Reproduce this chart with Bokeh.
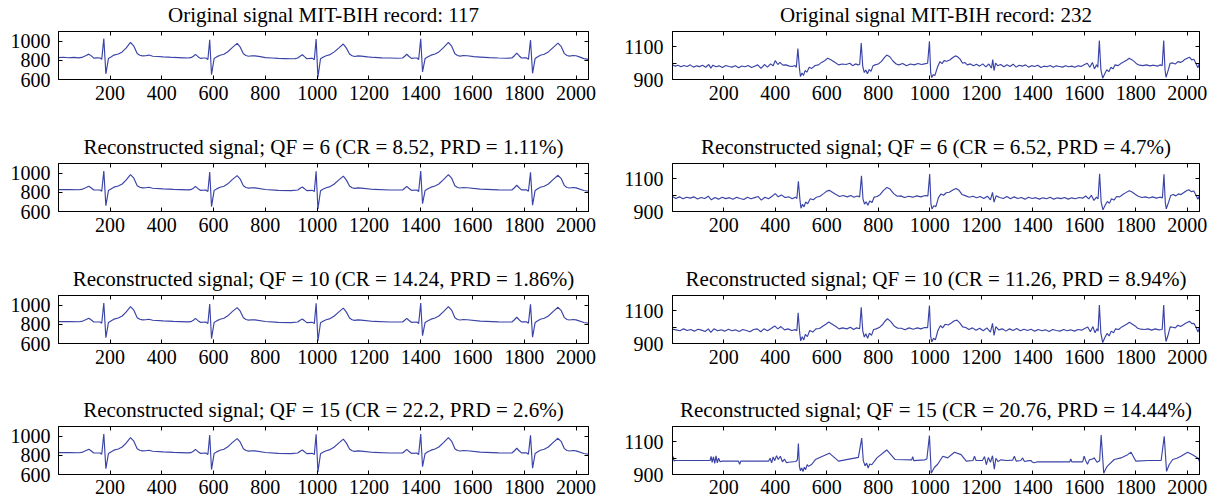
from bokeh.plotting import figure
from bokeh.layouts import column, row
from bokeh.models import Range1d, FixedTicker, LinearAxis, CustomLabelingPolicy
from bokeh.embed import file_html
from bokeh.resources import INLINE

FONT = "Liberation Serif"
LINE_COLOR = "#3a43a6"

# ---------------- data ----------------
x_ticks = [200, 400, 600, 800, 1000, 1200, 1400, 1600, 1800, 2000]
y117_ticks = [600, 800, 1000]
y232_ticks = [900, 1000, 1100]
y232_label_overrides = {1000: ""}

titles_117 = [
    "Original signal MIT-BIH record: 117",
    "Reconstructed signal; QF = 6 (CR = 8.52, PRD = 1.11%)",
    "Reconstructed signal; QF = 10 (CR = 14.24, PRD = 1.86%)",
    "Reconstructed signal; QF = 15 (CR = 22.2, PRD = 2.6%)",
]
titles_232 = [
    "Original signal MIT-BIH record: 232",
    "Reconstructed signal; QF = 6 (CR = 6.52, PRD = 4.7%)",
    "Reconstructed signal; QF = 10 (CR = 11.26, PRD = 8.94%)",
    "Reconstructed signal; QF = 15 (CR = 20.76, PRD = 14.44%)",
]

# record 117, original (sample, value)
r117_orig = [(1,830),(20,834),(40,829),(60,833),(80,828),(95,836),(108,852),(118,867),(128,848),(137,825),(150,828),(162,826),(168,812),(176,1030),(184,660),(194,822),(205,840),(215,857),(232,868),(247,890),(262,930),(279,990),(292,950),(305,873),(315,855),(325,848),(338,850),(350,857),(365,845),(385,842),(405,838),(425,836),(445,832),(465,830),(485,828),(500,826),(512,830),(522,845),(530,865),(540,840),(549,822),(562,826),(570,826),(578,810),(585,1018),(592,650),(602,820),(612,838),(625,855),(640,866),(655,892),(672,935),(691,980),(703,940),(715,870),(725,852),(735,845),(748,850),(760,848),(780,840),(800,830),(825,826),(850,822),(875,820),(900,818),(915,820),(925,826),(934,845),(943,860),(951,840),(960,818),(975,822),(982,822),(989,808),(996,1025),(1003,625),(1013,818),(1024,836),(1035,850),(1050,862),(1065,888),(1083,930),(1101,973),(1113,930),(1125,868),(1135,850),(1145,842),(1158,848),(1170,846),(1195,838),(1220,832),(1250,828),(1280,826),(1310,824),(1330,826),(1338,845),(1346,866),(1354,845),(1364,822),(1378,826),(1385,826),(1392,810),(1400,1028),(1407,680),(1417,822),(1428,840),(1440,856),(1455,868),(1470,890),(1488,935),(1507,990),(1520,948),(1532,870),(1542,852),(1552,846),(1565,852),(1580,850),(1605,840),(1630,836),(1665,830),(1700,826),(1730,824),(1752,826),(1762,850),(1771,878),(1780,850),(1789,826),(1800,828),(1808,828),(1816,812),(1824,1015),(1832,665),(1842,822),(1852,840),(1862,855),(1877,866),(1893,890),(1911,935),(1930,983),(1943,945),(1955,872),(1965,852),(1975,846),(1988,852),(2000,850),(2015,835),(2030,820),(2048,812)]

# record 117, reconstructions (visually the same shape, smoother)
r117_rec = [(1,830),(40,831),(80,829),(95,836),(108,852),(118,866),(128,847),(137,826),(162,826),(168,813),(176,1026),(184,662),(194,822),(205,840),(215,856),(232,868),(247,889),(262,930),(279,988),(292,950),(305,872),(315,855),(325,849),(338,850),(350,855),(365,845),(405,838),(445,832),(500,827),(512,830),(522,845),(530,864),(540,840),(549,823),(570,826),(578,811),(585,1015),(592,652),(602,820),(612,838),(625,855),(640,866),(655,891),(672,935),(691,978),(703,940),(715,870),(725,852),(735,846),(748,850),(760,848),(800,831),(850,823),(900,819),(925,826),(934,845),(943,858),(951,840),(960,819),(982,822),(989,809),(996,1022),(1003,628),(1013,818),(1024,836),(1035,850),(1050,862),(1065,887),(1083,930),(1101,972),(1113,930),(1125,868),(1135,850),(1145,843),(1158,848),(1170,846),(1220,832),(1280,826),(1330,826),(1338,845),(1346,865),(1354,845),(1364,823),(1385,826),(1392,811),(1400,1025),(1407,682),(1417,822),(1428,840),(1440,856),(1455,868),(1470,889),(1488,935),(1507,988),(1520,948),(1532,870),(1542,852),(1552,847),(1565,852),(1580,850),(1630,836),(1700,827),(1752,826),(1762,850),(1771,876),(1780,850),(1789,827),(1808,828),(1816,813),(1824,1012),(1832,667),(1842,822),(1852,840),(1862,855),(1877,866),(1893,889),(1911,935),(1930,981),(1943,945),(1955,872),(1965,852),(1975,847),(1988,852),(2000,849),(2030,821),(2048,813)]

# record 232, original
r232_orig = [(1,990),(12,982),(22,988),(34,978),(45,986),(58,980),(70,990),(82,976),(95,984),(106,979),(118,987),(130,975),(142,992),(150,970),(158,988),(170,978),(182,984),(195,974),(208,986),(220,980),(232,976),(245,985),(258,972),(270,983),(282,978),(295,986),(308,974),(320,982),(332,990),(345,968),(358,992),(370,976),(382,996),(392,985),(400,1016),(410,992),(418,1005),(430,988),(442,990),(455,982),(466,980),(476,986),(482,975),(488,1090),(494,970),(498,918),(504,940),(510,925),(516,955),(523,945),(532,975),(542,968),(555,986),(568,990),(580,1005),(592,1015),(604,1031),(616,1022),(630,1008),(646,990),(660,995),(675,992),(690,1000),(700,985),(712,996),(722,990),(728,992),(734,1124),(740,980),(746,943),(752,958),(758,935),(765,962),(772,950),(780,985),(788,990),(800,995),(812,1010),(824,1035),(833,1050),(845,1040),(858,1012),(870,995),(880,990),(895,998),(910,985),(925,995),(940,990),(955,998),(968,992),(980,996),(992,1000),(999,1135),(1004,940),(1008,912),(1014,930),(1020,924),(1030,975),(1040,1010),(1048,998),(1056,1016),(1066,1012),(1078,1020),(1090,1035),(1100,1045),(1108,1040),(1118,1025),(1128,1000),(1136,1005),(1146,990),(1158,996),(1170,985),(1182,994),(1194,982),(1206,996),(1218,978),(1230,995),(1240,970),(1245,1022),(1250,955),(1256,1000),(1264,985),(1276,992),(1288,978),(1300,990),(1312,980),(1324,994),(1336,976),(1348,988),(1360,982),(1372,990),(1384,976),(1396,985),(1408,980),(1420,988),(1432,974),(1444,982),(1456,978),(1468,986),(1480,975),(1492,984),(1504,980),(1516,976),(1528,985),(1540,978),(1552,982),(1564,975),(1576,985),(1588,980),(1600,990),(1612,1000),(1622,975),(1632,1005),(1640,965),(1648,990),(1653,975),(1659,1139),(1665,960),(1672,908),(1680,935),(1688,960),(1696,948),(1704,975),(1712,965),(1720,990),(1732,985),(1744,1000),(1756,1010),(1766,1020),(1775,1031),(1785,1022),(1795,1010),(1805,995),(1815,988),(1828,985),(1842,990),(1856,984),(1870,988),(1884,982),(1896,990),(1903,985),(1909,1139),(1914,960),(1918,914),(1926,955),(1934,1000),(1944,1002),(1954,995),(1964,1010),(1974,1005),(1983,1012),(1992,1025),(2000,1030),(2009,1037),(2018,1020),(2026,1025),(2034,1000),(2042,972),(2048,1000)]

# record 232, QF = 6
r232_qf6 = [(1,992),(14,980),(28,990),(42,978),(56,988),(70,982),(84,990),(98,977),(112,986),(126,980),(140,994),(152,972),(166,986),(180,976),(194,988),(208,979),(222,985),(236,975),(250,987),(264,980),(278,974),(292,988),(306,978),(320,985),(334,992),(346,970),(360,988),(374,978),(388,994),(400,1010),(412,990),(424,1002),(438,986),(452,990),(466,978),(478,988),(484,980),(490,1085),(496,972),(500,920),(506,945),(512,928),(518,958),(526,948),(536,978),(548,972),(560,988),(574,994),(588,1010),(600,1025),(610,1030),(622,1018),(636,1004),(650,992),(664,998),(680,990),(694,998),(706,988),(718,995),(728,990),(735,1120),(741,975),(747,945),(753,960),(760,938),(767,965),(776,955),(784,988),(796,992),(808,1005),(820,1028),(834,1048),(846,1038),(860,1010),(874,994),(888,996),(902,986),(918,994),(934,988),(950,996),(966,990),(982,998),(993,996),(1000,1130),(1005,945),(1009,915),(1016,935),(1024,930),(1034,985),(1044,1008),(1054,1000),(1064,1015),(1076,1018),(1090,1032),(1102,1042),(1114,1030),(1126,1004),(1140,996),(1154,988),(1168,994),(1182,984),(1196,992),(1210,980),(1224,994),(1236,972),(1244,1018),(1250,958),(1258,996),(1272,986),(1286,980),(1300,992),(1314,978),(1328,990),(1342,980),(1356,986),(1370,976),(1384,988),(1398,980),(1412,985),(1426,976),(1440,984),(1454,978),(1468,988),(1482,976),(1496,984),(1510,979),(1524,986),(1538,976),(1552,984),(1566,978),(1580,986),(1594,982),(1606,995),(1618,978),(1628,1000),(1638,968),(1648,988),(1654,978),(1660,1132),(1666,958),(1673,910),(1682,940),(1690,962),(1698,950),(1706,978),(1716,970),(1726,992),(1738,990),(1750,1004),(1762,1016),(1775,1028),(1786,1020),(1798,1006),(1810,994),(1824,986),(1838,990),(1852,983),(1866,990),(1880,982),(1894,988),(1904,984),(1910,1128),(1915,958),(1919,916),(1928,958),(1936,998),(1946,1004),(1956,996),(1966,1008),(1976,1004),(1986,1015),(1996,1026),(2006,1034),(2016,1022),(2026,1026),(2034,1002),(2042,975),(2048,998)]

# record 232, QF = 10
r232_qf10 = [(1,988),(15,984),(30,978),(44,990),(58,980),(72,986),(86,976),(100,988),(114,982),(128,974),(140,990),(150,968),(162,990),(176,978),(190,984),(204,976),(218,988),(232,978),(246,984),(260,974),(274,986),(288,980),(302,972),(316,986),(330,990),(344,972),(356,990),(370,978),(384,992),(398,1008),(410,990),(422,1004),(436,984),(450,990),(464,980),(478,985),(484,978),(489,1088),(495,968),(499,916),(505,942),(511,922),(517,956),(525,942),(534,980),(546,970),(558,990),(572,992),(586,1008),(598,1020),(608,1032),(620,1020),(634,1006),(648,990),(662,996),(678,990),(692,1000),(704,986),(716,996),(728,991),(734,1122),(740,978),(746,940),(752,960),(759,932),(766,964),(774,950),(782,986),(792,990),(804,998),(816,1015),(828,1040),(836,1052),(848,1036),(862,1008),(876,994),(890,994),(904,984),(920,996),(936,988),(952,996),(966,990),(980,998),(992,998),(999,1133),(1004,942),(1008,910),(1015,932),(1022,922),(1032,980),(1042,1010),(1050,996),(1060,1018),(1072,1014),(1084,1026),(1096,1040),(1106,1044),(1116,1028),(1128,1002),(1140,998),(1152,986),(1166,996),(1180,982),(1194,994),(1208,978),(1222,996),(1236,970),(1244,1024),(1250,950),(1257,1004),(1268,984),(1282,990),(1296,976),(1310,990),(1324,980),(1338,992),(1352,978),(1366,988),(1380,980),(1394,988),(1408,976),(1422,986),(1436,978),(1450,984),(1464,974),(1478,986),(1492,980),(1506,976),(1520,986),(1534,978),(1548,984),(1562,976),(1576,986),(1590,982),(1602,992),(1614,1002),(1624,972),(1634,1004),(1642,966),(1650,990),(1654,976),(1659,1136),(1665,962),(1672,906),(1681,938),(1689,962),(1697,946),(1705,976),(1714,966),(1722,990),(1734,986),(1746,1002),(1758,1012),(1768,1022),(1776,1030),(1786,1020),(1798,1008),(1808,994),(1820,988),(1834,986),(1848,990),(1862,982),(1876,990),(1890,984),(1903,986),(1909,1136),(1914,962),(1918,912),(1926,952),(1934,1002),(1944,1000),(1954,996),(1964,1012),(1974,1004),(1984,1014),(1994,1024),(2002,1030),(2010,1036),(2018,1022),(2026,1024),(2034,1002),(2042,970),(2048,1000)]

# record 232, QF = 15
r232_qf15 = [(1,990),(4,1010),(7,982),(10,986),(60,986),(147,986),(151,1012),(155,975),(160,1008),(165,968),(170,1015),(175,972),(180,1000),(186,978),(192,982),(257,982),(262,963),(266,982),(374,982),(380,1000),(386,972),(392,1008),(398,985),(405,1015),(412,992),(420,1012),(428,978),(436,995),(444,972),(451,975),(480,980),(486,990),(490,1090),(494,950),(498,923),(503,940),(508,918),(513,945),(518,930),(524,960),(530,950),(542,963),(556,992),(610,1031),(646,982),(723,1005),(736,1124),(742,985),(749,953),(755,970),(761,940),(767,965),(775,960),(795,1002),(833,1051),(866,992),(930,990),(934,1010),(938,985),(980,990),(989,995),(999,1139),(1006,908),(1018,943),(1031,963),(1051,1012),(1070,1002),(1096,1037),(1122,1022),(1142,982),(1168,986),(1174,1012),(1180,986),(1205,986),(1213,1010),(1220,960),(1228,1005),(1236,975),(1244,1015),(1251,933),(1257,1000),(1265,980),(1277,990),(1300,986),(1322,988),(1329,1012),(1336,982),(1354,986),(1361,1002),(1368,980),(1386,985),(1393,986),(1400,975),(1406,972),(1419,978),(1544,978),(1548,996),(1552,978),(1594,978),(1600,1012),(1606,985),(1613,963),(1620,990),(1632,995),(1639,1002),(1650,975),(1660,985),(1666,1143),(1676,908),(1684,935),(1691,953),(1717,992),(1743,1002),(1769,1022),(1782,1037),(1801,982),(1850,986),(1899,986),(1911,1135),(1920,919),(1930,960),(1944,992),(1960,1000),(1976,1012),(2002,1037),(2021,1022),(2041,1002),(2048,982)]

series_117 = [r117_orig, r117_rec, r117_rec, r117_rec]
series_232 = [r232_orig, r232_qf6, r232_qf10, r232_qf15]

# ---------------- layout ----------------
ROW_H = [132, 132, 131, 107]
FRAME_H = 50
TOP = 29

HIDE_LABELS = CustomLabelingPolicy(code="""
const all = [...indices]
for (const i of all) { indices.unset(i) }
return indices
""")


def style_axis(ax, labels=True):
    ax.major_tick_in = 4
    ax.major_tick_out = 0
    ax.minor_tick_in = 0
    ax.minor_tick_out = 0
    ax.axis_line_color = "black"
    ax.axis_line_width = 1
    ax.major_tick_line_color = "black"
    ax.major_tick_line_width = 1
    ax.major_label_text_font = FONT
    ax.major_label_text_color = "black"
    if labels:
        ax.major_label_text_font_size = "20px"
    else:
        ax.major_label_text_font_size = "1px"
        ax.major_label_standoff = 0
        ax.major_label_policy = HIDE_LABELS


def make_panel(pts, title, left_col, r):
    h = ROW_H[r]
    if left_col:
        yr = Range1d(600, 1105)
        yt = y117_ticks
        bl, br = 58, 21
    else:
        yr = Range1d(900, 1195)
        yt = y232_ticks
        bl, br = 63, 19
    p = figure(width=609, height=h, x_range=Range1d(1, 2048), y_range=yr,
               output_backend="svg", toolbar_location=None,
               min_border_left=bl, min_border_right=br,
               min_border_top=TOP, min_border_bottom=h - TOP - FRAME_H)
    p.grid.visible = False
    p.outline_line_color = "black"
    p.outline_line_width = 1
    p.background_fill_color = "white"
    p.border_fill_color = "white"

    p.title.text = title
    p.title.text_font = FONT
    p.title.text_font_size = "21px"
    p.title.text_font_style = "normal"
    p.title.text_color = "black"
    p.title.align = "center"
    p.title.standoff = 1

    xs = [a for a, b in pts]
    ys = [b for a, b in pts]
    p.line(xs, ys, line_color=LINE_COLOR, line_width=1.15)

    p.xaxis.ticker = FixedTicker(ticks=x_ticks)
    p.yaxis.ticker = FixedTicker(ticks=yt)
    style_axis(p.xaxis[0])
    style_axis(p.yaxis[0])
    p.xaxis.major_label_standoff = 5 if r == 3 else 6
    p.yaxis.major_label_standoff = 8 if left_col else 9
    if not left_col:
        p.yaxis.major_label_overrides = y232_label_overrides

    top_ax = LinearAxis(ticker=FixedTicker(ticks=x_ticks))
    style_axis(top_ax, labels=False)
    p.add_layout(top_ax, "above")
    right_ax = LinearAxis(ticker=FixedTicker(ticks=yt))
    style_axis(right_ax, labels=False)
    p.add_layout(right_ax, "right")
    return p


rows = []
for r in range(4):
    a = make_panel(series_117[r], titles_117[r], True, r)
    b = make_panel(series_232[r], titles_232[r], False, r)
    rows.append(row(a, b))
layout = column(*rows)

open("out.html", "w").write(file_html(layout, INLINE))
